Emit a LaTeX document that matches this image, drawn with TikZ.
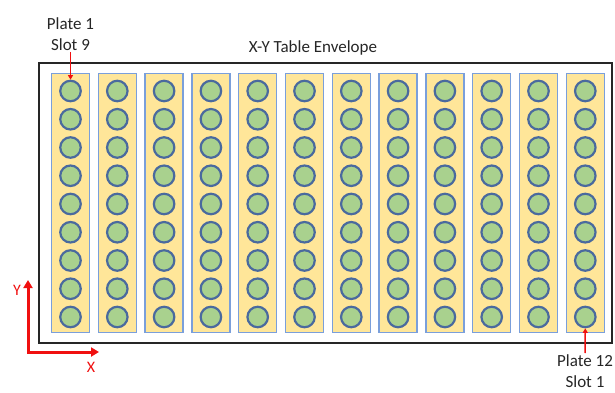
\documentclass[tikz,border=0pt]{standalone}
\usepackage{fontspec}
\setmainfont{Carlito}
\usetikzlibrary{arrows.meta,positioning}
\definecolor{plateyel}{HTML}{FFE699}
\definecolor{plateblue}{HTML}{7A9FDB}
\definecolor{slotgreen}{HTML}{A9D18E}
\definecolor{slotedge}{HTML}{4A6A9E}
\definecolor{axisred}{HTML}{F01010}
\definecolor{txtgray}{HTML}{262626}
\newcommand{\platex}[1]{70.5+(#1-1)*46.8}
\tikzset{
  plate/.style={draw=plateblue, fill=plateyel, line width=1.4pt, minimum width=38pt, minimum height=259pt, inner sep=0pt},
  slot/.style={circle, draw=slotedge, fill=slotgreen, line width=2.2pt, minimum size=20.5pt, inner sep=0pt},
  lbl/.style={align=center, text=txtgray, font=\fontsize{17}{21}\selectfont, inner sep=1.5pt},
  pointer/.style={draw=axisred, line width=1.5pt, -{Triangle[length=4.5pt,width=5pt]}},
  axis/.style={draw=axisred, line width=3pt, {Triangle[length=8pt,width=9pt]}-{Triangle[length=8pt,width=9pt]}},
}

\begin{document}
\begin{tikzpicture}[x=1pt,y=-1pt]
  \useasboundingbox (0,0) rectangle (615,393);
  % table envelope
  \draw[line width=1.6pt, black!85] (39,63) rectangle (612,343);
  \node[lbl] (title) at (313,48) {X-Y Table Envelope};
  % plates and slots
  \foreach \i in {1,...,12} {
    \node[plate] (p\i) at ({\platex{\i}},203) {};
    \foreach \j in {1,...,9}
      \node[slot] (s-\i-\j) at ({\platex{\i}},{91+(9-\j)*28.25}) {};
  }
  % pointers
  \node[lbl, anchor=south] (first) at (70.5,52) {Plate 1\\Slot 9};
  \draw[pointer] (first.south) -- (s-1-9.north);
  \node[lbl, anchor=north] (last) at (585,353) {Plate 12\\Slot 1};
  \draw[pointer] (last.north) -- (s-12-1.south);
  % axes
  \coordinate (o) at (28,352);
  \coordinate (ytip) at (28,280);
  \coordinate (xtip) at (99,352);
  \draw[axis] (ytip) -- (o) -- (xtip);
  \node[text=axisred, font=\fontsize{16}{18}\selectfont] (ylab) at (17,290) {Y};
  \node[text=axisred, font=\fontsize{16}{18}\selectfont] (xlab) at (91,367) {X};
\end{tikzpicture}
\end{document}
